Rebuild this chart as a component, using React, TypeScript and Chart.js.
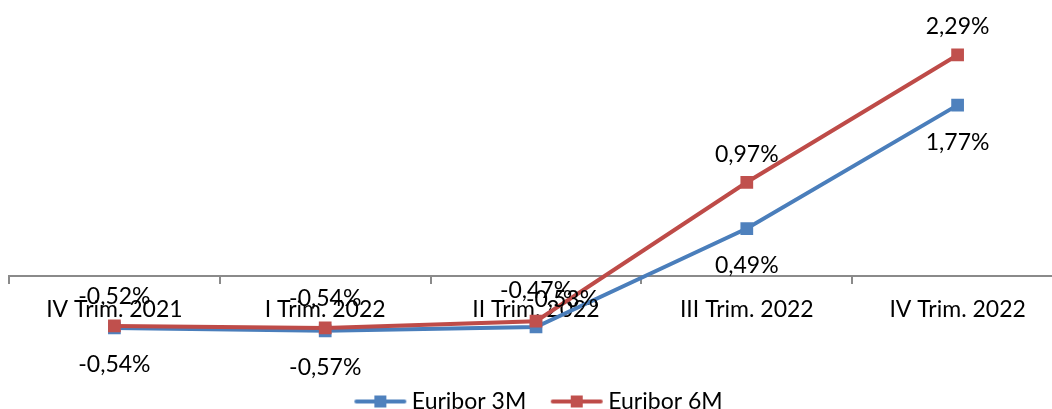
import React, { useEffect, useRef } from 'react';
import { Chart, registerables } from 'chart.js';

Chart.register(...registerables);

const categories = ['IV Trim. 2021', 'I Trim. 2022', 'II Trim. 2022', 'III Trim. 2022', 'IV Trim. 2022'];
const euribor3M = [-0.54, -0.57, -0.53, 0.49, 1.77];
const euribor6M = [-0.52, -0.54, -0.47, 0.97, 2.29];
const seriesNames = ['Euribor 3M', 'Euribor 6M'];

const FONT = 'Lato, "DejaVu Sans", sans-serif';
const FONT_SIZE = 23;
const BLUE = '#4A7EBB';
const BLUE_M = '#4F81BD';
const RED = '#BE4B48';
const RED_M = '#C0504D';

// label offsets (px) relative to each point: [dx, dy]
const labelOffsets: number[][][] = [
  [[0, 37], [0, 37], [26, -27], [0, 37], [0, 37]],
  [[0, -29], [0, -29], [0, -31], [0, -28], [0, -28]],
];

const fmt = (v: number) => v.toFixed(2).replace('.', ',') + '%';

function legendIcon(lineColor: string, markColor: string, width: number, lineCenterOffset: number) {
  const c = document.createElement('canvas');
  const h = 16;
  c.width = width;
  c.height = h;
  const ctx = c.getContext('2d')!;
  const cx = width / 2 + lineCenterOffset;
  ctx.strokeStyle = lineColor;
  ctx.lineWidth = 4;
  ctx.lineCap = 'round';
  ctx.beginPath();
  ctx.moveTo(cx - 24, h / 2);
  ctx.lineTo(cx + 24, h / 2);
  ctx.stroke();
  ctx.fillStyle = markColor;
  ctx.fillRect(cx - 6, h / 2 - 6, 12, 12);
  return c;
}

const valueLabels = {
  id: 'valueLabels',
  afterDatasetsDraw(chart: any) {
    const ctx = chart.ctx;
    ctx.save();
    ctx.font = `${FONT_SIZE}px ${FONT}`;
    ctx.fillStyle = '#000';
    ctx.textAlign = 'center';
    ctx.textBaseline = 'middle';
    chart.data.datasets.forEach((ds: any, di: number) => {
      const meta = chart.getDatasetMeta(di);
      meta.data.forEach((pt: any, i: number) => {
        const [dx, dy] = labelOffsets[di][i];
        ctx.fillText(fmt(ds.data[i]), pt.x + dx, pt.y + dy);
      });
    });
    ctx.restore();
  },
};

export default function App() {
  const ref = useRef<HTMLCanvasElement>(null);

  useEffect(() => {
    const icons = [legendIcon(BLUE, BLUE_M, 66, 6), legendIcon(RED, RED_M, 66, 6)];
    const chart = new Chart(ref.current!, {
      type: 'line',
      data: {
        labels: categories,
        datasets: [
          {
            label: seriesNames[0],
            data: euribor3M,
            borderColor: BLUE,
            backgroundColor: BLUE_M,
            borderWidth: 4,
            pointStyle: 'rect',
            pointRadius: 9,
            pointBackgroundColor: BLUE_M,
            pointBorderColor: BLUE_M,
            pointBorderWidth: 0,
            tension: 0,
            order: 1,
          },
          {
            label: seriesNames[1],
            data: euribor6M,
            borderColor: RED,
            backgroundColor: RED_M,
            borderWidth: 4,
            pointStyle: 'rect',
            pointRadius: 9,
            pointBackgroundColor: RED_M,
            pointBorderColor: RED_M,
            pointBorderWidth: 0,
            tension: 0,
            order: 0,
          },
        ],
      },
      options: {
        animation: false,
        responsive: true,
        maintainAspectRatio: false,
        events: [],
        layout: { padding: { left: 8, right: 17, top: 35, bottom: 0 } },
        scales: {
          x: {
            type: 'category',
            position: { y: 0 } as any,
            offset: true,
            grid: {
              display: true,
              offset: true,
              drawOnChartArea: false,
              drawTicks: true,
              tickLength: 7,
              color: '#8A8A8A',
              lineWidth: 2,
            },
            border: { display: true, color: '#8A8A8A', width: 2 },
            ticks: {
              font: { size: FONT_SIZE, family: FONT },
              color: '#000',
              padding: 12.5,
              maxRotation: 0,
              autoSkip: false,
            },
          },
          y: { display: false, min: -0.992, max: 2.497 },
        },
        plugins: {
          tooltip: { enabled: false },
          legend: {
            display: true,
            position: 'bottom',
            labels: {
              usePointStyle: true,
              pointStyleWidth: 52,
              padding: 18.5,
              color: '#000',
              font: { size: FONT_SIZE, family: FONT },
              sort: (a: any, b: any) => a.datasetIndex - b.datasetIndex,
              generateLabels: (c: any) => {
                const items = (Chart.defaults.plugins.legend.labels as any).generateLabels(c);
                return items.map((it: any) => ({ ...it, pointStyle: icons[it.datasetIndex] }));
              },
            },
          },
        },
      },
      plugins: [valueLabels],
    });
    return () => chart.destroy();
  }, []);

  return (
    <div
      style={{
        position: 'fixed',
        left: 0,
        top: 0,
        width: 1052,
        height: 409,
        overflow: 'hidden',
        background: '#fff',
      }}
    >
      <div style={{ position: 'relative', width: 1080, height: 423 }}>
        <canvas ref={ref} />
      </div>
    </div>
  );
}
